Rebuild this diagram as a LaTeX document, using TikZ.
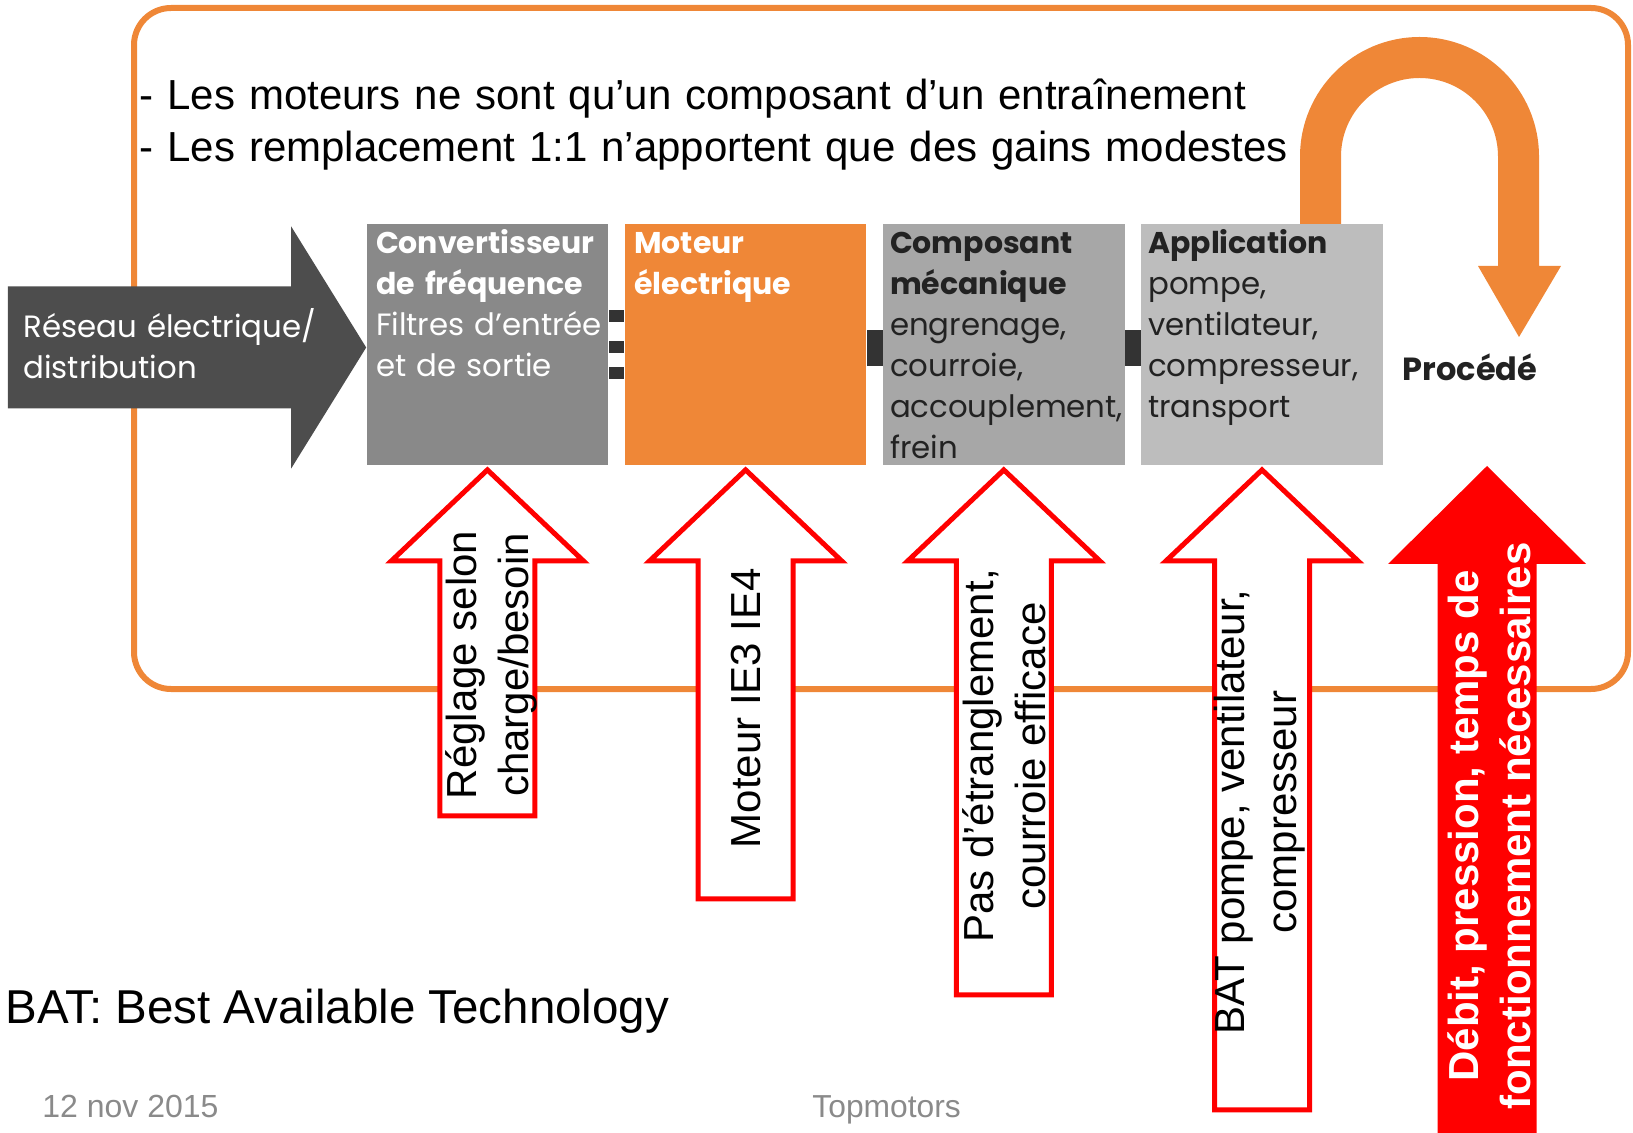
\documentclass[tikz,border=0pt]{standalone}
\usepackage{fontspec}
\setmainfont{Liberation Sans}
\newfontfamily\boxfont{Poppins}
\usetikzlibrary{positioning}

\definecolor{tmorange}{HTML}{EF8737}
\definecolor{netdark}{HTML}{4D4D4D}
\definecolor{convgrey}{HTML}{898989}
\definecolor{mecagrey}{HTML}{A7A7A7}
\definecolor{appgrey}{HTML}{BDBDBD}
\definecolor{bardark}{HTML}{333333}
\definecolor{txtdark}{HTML}{222222}
\definecolor{footgrey}{HTML}{8A8A8A}

\newcommand{\hd}[1]{{\fontsize{15}{20.5}\selectfont\bfseries #1}}

\begin{document}
\begin{tikzpicture}[x=0.5pt, y=0.5pt,
  box/.style={rectangle, minimum width=120.8pt, minimum height=120.75pt, inner sep=0pt},
  boxtxt/.style={font=\boxfont\fontsize{15.4}{20.5}\selectfont, text width=118pt, inner sep=0pt, align=left, anchor=base west},
  redout/.style={draw=red, fill=white, line width=2.5pt, miter limit=10},
  vtxt/.style={rotate=90, align=center, inner sep=0pt, font=\fontsize{21}{26}\selectfont},
  bar/.style={fill=bardark}]
\useasboundingbox (0,0) rectangle (1633,-1133);

% frame
\draw[tmorange, line width=3pt, rounded corners=18.5pt] (134,-8) rectangle (1628,-689);

\node[anchor=base west, text width=600pt, inner sep=0pt, font=\fontsize{21}{26}\selectfont] (head) at (139,-110)
  {- Les moteurs ne sont qu’un composant d’un entraînement\\
   - Les remplacement 1:1 n’apportent que des gains modestes};

% return loop to the process
\fill[tmorange] (1300,-224) -- (1300,-156.5) arc[start angle=180, end angle=0, radius=119.5]
  -- (1539,-266) -- (1561,-266) -- (1519,-337) -- (1478,-266) -- (1498,-266) -- (1498,-156.5)
  arc[start angle=0, end angle=180, radius=78.5] -- (1341,-224) -- cycle;

% chain
\node[box, fill=convgrey] (conv) at (487.4,-344.75) {};
\node[box, fill=tmorange, right=7.9pt of conv] (mot) {};
\node[box, fill=mecagrey, right=7.9pt of mot] (meca) {};
\node[box, fill=appgrey, right=7.9pt of meca] (app) {};

\node[boxtxt, text=white] (convt) at ([shift={(9.4,-29.5)}]conv.north west)
  {\hd{Convertisseur}\\\hd{de fréquence}\\Filtres d’entrée\\et de sortie};
\node[boxtxt, text=white] (mott) at ([shift={(9.4,-29.5)}]mot.north west)
  {\hd{Moteur}\\\hd{électrique}};
\node[boxtxt, text=txtdark] (mecat) at ([shift={(7,-29.5)}]meca.north west)
  {\hd{Composant}\\\hd{mécanique}\\engrenage,\\courroie,\\accouplement,\\frein};
\node[boxtxt, text=txtdark] (appt) at ([shift={(7,-29.5)}]app.north west)
  {\hd{Application}\\pompe,\\ventilateur,\\compresseur,\\transport};

\node[font=\boxfont\bfseries\fontsize{16}{20.5}\selectfont, text=txtdark] (proc) at (1470,-367) {Procédé};

% couplings
\fill[bar] ([shift={(0,22.25)}]conv.east) rectangle ([shift={(0,34.25)}]mot.west);
\fill[bar] ([shift={(0,-8.75)}]conv.east) rectangle ([shift={(0,3.25)}]mot.west);
\fill[bar] ([shift={(0,-34.25)}]conv.east) rectangle ([shift={(0,-22.25)}]mot.west);
\fill[bar] ([shift={(0,15)}]mot.east) rectangle ([shift={(0,-21)}]meca.west);
\fill[bar] ([shift={(0,15)}]meca.east) rectangle ([shift={(0,-21)}]app.west);

% grid input
\fill[netdark] ([shift={(0,-2.75)}]conv.west) -- ++(-75,121) -- ++(0,-60) -- ++(-283.3,0)
  -- ++(0,-122) -- ++(283.3,0) -- ++(0,-60) -- cycle;
\node[boxtxt, text=white, text width=160pt] (reseau) at (23,-338)
  {Réseau électrique/\\distribution};

% improvement arrows
\draw[redout] ([shift={(0,-4)}]conv.south) -- ++(96,-91) -- ++(-48.5,0) -- ++(0,-255)
  -- ++(-95,0) -- ++(0,255) -- ++(-48.5,0) -- cycle;
\draw[redout] ([shift={(0,-4)}]mot.south) -- ++(96,-91) -- ++(-48.5,0) -- ++(0,-338)
  -- ++(-95,0) -- ++(0,338) -- ++(-48.5,0) -- cycle;
\draw[redout] ([shift={(0,-4)}]meca.south) -- ++(96,-91) -- ++(-48.5,0) -- ++(0,-434)
  -- ++(-95,0) -- ++(0,434) -- ++(-48.5,0) -- cycle;
\draw[redout] ([shift={(0,-4)}]app.south) -- ++(96,-91) -- ++(-48.5,0) -- ++(0,-549)
  -- ++(-95,0) -- ++(0,549) -- ++(-48.5,0) -- cycle;
\fill[red] ([shift={(17,-99)}]proc.center) -- ++(99,-98) -- ++(-49.5,0) -- ++(0,-569)
  -- ++(-99,0) -- ++(0,569) -- ++(-49.5,0) -- cycle;

\node[vtxt] (reglage) at (491,-665) {Réglage selon\\charge/besoin};
\node[vtxt] (ie) at (746,-708) {Moteur IE3 IE4};
\node[vtxt] (courroie) at (1004,-756) {Pas d’étranglement,\\courroie efficace};
\node[vtxt] (bat) at (1260,-812) {BAT pompe, ventilateur,\\compresseur};
\node[vtxt, text=white, font=\bfseries\fontsize{21}{26}\selectfont] (debit) at (1489,-826)
  {Débit, pression, temps de\\fonctionnement nécessaires};

% footer
\node[anchor=base west, inner sep=0pt, font=\fontsize{23.75}{28}\selectfont] (batdef) at (5,-1023)
  {BAT: Best Available Technology};
\node[anchor=base west, inner sep=0pt, text=footgrey, font=\fontsize{16}{19}\selectfont] (date) at (42,-1117.5)
  {12 nov 2015};
\node[anchor=base west, inner sep=0pt, text=footgrey, font=\fontsize{15.9}{19}\selectfont] (org) at (812,-1117.5)
  {Topmotors};
\end{tikzpicture}
\end{document}
